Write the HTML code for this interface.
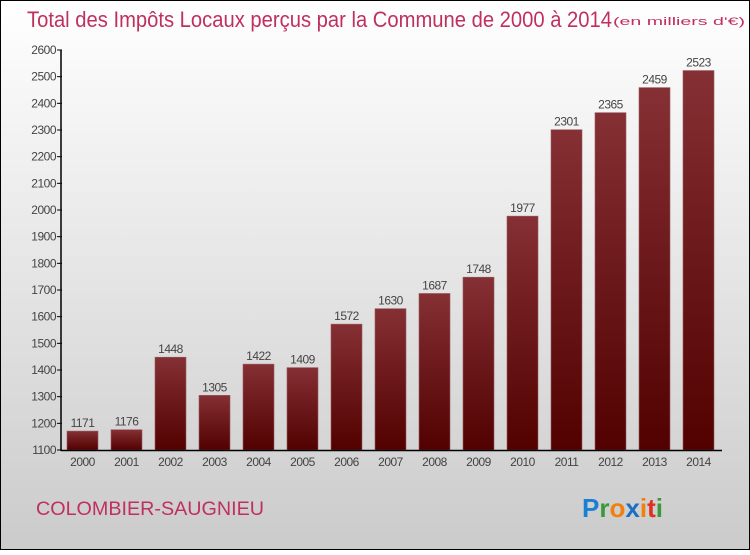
<!DOCTYPE html>
<html><head><meta charset="utf-8"><style>
body{margin:0;}
#c{position:relative;width:750px;height:550px;}
svg text{font-family:"Liberation Sans",sans-serif;}
</style></head><body>
<div id="c">
<svg id="s" width="750" height="550" xmlns="http://www.w3.org/2000/svg">
<defs>
<linearGradient id="bg" x1="0" y1="0" x2="0" y2="1"><stop offset="0" stop-color="#ffffff"/><stop offset="1" stop-color="#cbcbcb"/></linearGradient>
<linearGradient id="bar" x1="0" y1="0" x2="0" y2="1"><stop offset="0" stop-color="#853034"/><stop offset="1" stop-color="#520000"/></linearGradient>
</defs>
<rect x="0.5" y="0.5" width="749" height="549" fill="url(#bg)" stroke="#000"/>
<text x="27" y="27" font-size="22" fill="#c0305e" textLength="585" lengthAdjust="spacingAndGlyphs">Total des Impôts Locaux perçus par la Commune de 2000 à 2014</text>
<text x="613" y="25" font-size="11" fill="#c0305e" textLength="132" lengthAdjust="spacingAndGlyphs">(en milliers d'€)</text>
<text x="36" y="515" font-size="19" fill="#c0305e" textLength="228" lengthAdjust="spacingAndGlyphs">COLOMBIER-SAUGNIEU</text>
<g font-size="26" font-weight="bold">
<text x="582" y="517"><tspan fill="#1b7fd4">P</tspan><tspan fill="#3a9a3a">r</tspan><tspan fill="#f08010">o</tspan><tspan fill="#1b6fc4">x</tspan><tspan fill="#f08010">i</tspan><tspan fill="#e03020">t</tspan><tspan fill="#3a9a3a">i</tspan></text>
</g>
<g id="plot"></g>
</svg>
</div>
<script>
const years=["2000","2001","2002","2003","2004","2005","2006","2007","2008","2009","2010","2011","2012","2013","2014"];
const values=[1171,1176,1448,1305,1422,1409,1572,1630,1687,1748,1977,2301,2365,2459,2523];
const yTicks=[1100,1200,1300,1400,1500,1600,1700,1800,1900,2000,2100,2200,2300,2400,2500,2600];
const NS="http://www.w3.org/2000/svg";
const g=document.getElementById('plot');
const y=v=>450-(v-1100)*400/1500;
const xc=i=>82.5+i*44;
function mk(t,a){const e=document.createElementNS(NS,t);for(const k in a)e.setAttribute(k,a[k]);g.appendChild(e);return e;}
yTicks.forEach(t=>{
 const l=mk('line',{x1:57,x2:62,y1:y(t),y2:y(t),stroke:'#000'});
 
 
 const tx=mk('text',{x:56,y:y(t)+4,'font-size':12,'text-anchor':'end',fill:'#444','letter-spacing':'-0.5'});
 tx.textContent=t;
 
 
});
values.forEach((v,i)=>{
 const r=mk('rect',{x:xc(i)-15.5,y:y(v),width:31,height:450-y(v),fill:'url(#bar)',stroke:'#9a5a5e','stroke-width':0.6});
 
 
 const vl=mk('text',{x:xc(i),y:y(v)-4,'font-size':12,'text-anchor':'middle',fill:'#444','letter-spacing':'-0.5'});
 vl.textContent=v;
 
 
 const xl=mk('text',{x:xc(i),y:466,'font-size':12,'text-anchor':'middle',fill:'#444','letter-spacing':'-0.5'});
 xl.textContent=years[i];
 
 
});
const ya=mk('line',{x1:61,x2:61,y1:50,y2:451,stroke:'#000','stroke-width':1.5});


const xa=mk('line',{x1:61,x2:722,y1:450.5,y2:450.5,stroke:'#000','stroke-width':1.5});


</script>
</body></html>
